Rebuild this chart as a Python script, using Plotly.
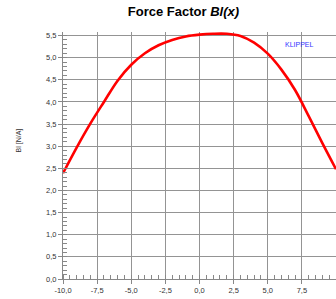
import plotly.graph_objects as go

x_mm = [-10, -9, -8, -7, -6, -5, -4, -3, -2, -1, 0, 1, 2, 3, 4, 5, 6, 7, 8, 9, 10]
bl = [2.39, 2.97, 3.51, 4.00, 4.48, 4.84, 5.10, 5.28, 5.40, 5.48, 5.52, 5.54, 5.54, 5.49, 5.34, 5.09, 4.73, 4.27, 3.68, 3.07, 2.48]

x_ticks = [-10, -7.5, -5, -2.5, 0, 2.5, 5, 7.5, 10]
x_ticktext = ["-10,0", "-7,5", "-5,0", "-2,5", "0,0", "2,5", "5,0", "7,5", "10,0"]
y_ticks = [0, 0.5, 1, 1.5, 2, 2.5, 3, 3.5, 4, 4.5, 5, 5.5]
y_ticktext = ["0,0", "0,5", "1,0", "1,5", "2,0", "2,5", "3,0", "3,5", "4,0", "4,5", "5,0", "5,5"]

font = "Liberation Sans, Arial, sans-serif"

fig = go.Figure()
fig.add_trace(go.Scatter(x=x_mm, y=bl, mode="lines",
                         line=dict(color="#ff0000", width=2.6, shape="spline", smoothing=1.0),
                         showlegend=False, hoverinfo="skip"))

fig.update_layout(
    width=336, height=299,
    margin=dict(l=63, r=0, t=32, b=20),
    paper_bgcolor="white", plot_bgcolor="white",
    title=dict(text="<b>Force Factor <i>Bl(x)</i></b>", x=0.546, xanchor="center",
               y=0.962, yanchor="middle", font=dict(family=font, size=13, color="black")),
    xaxis=dict(range=[-10, 10], tickvals=x_ticks, ticktext=x_ticktext,
               showgrid=True, gridcolor="#949494", gridwidth=1,
               showline=True, linecolor="#888888", linewidth=1,
               ticks="outside", ticklen=4, tickcolor="#888888",
               tickfont=dict(family=font, size=7.5, color="#333333"),
               minor=dict(dtick=0.5, tick0=0, ticks="inside", ticklen=4, tickcolor="#888888", showgrid=False),
               zeroline=False, fixedrange=True),
    yaxis=dict(range=[0, 5.58], tickvals=y_ticks, ticktext=y_ticktext,
               showgrid=True, gridcolor="#949494", gridwidth=1,
               showline=True, linecolor="#888888", linewidth=1,
               ticks="outside", ticklen=4, tickcolor="#888888",
               tickfont=dict(family=font, size=7.5, color="#333333"),
               minor=dict(dtick=0.1, tick0=0, ticks="inside", ticklen=4, tickcolor="#888888", showgrid=False),
               zeroline=False, fixedrange=True),
)

fig.add_annotation(text="Bl [N/A]", xref="paper", yref="paper", x=-0.162, y=0.56,
                   xanchor="center", yanchor="middle",
                   textangle=-90, showarrow=False, font=dict(family=font, size=7, color="#333333"))
fig.add_annotation(text="KLIPPEL", xref="paper", yref="paper", x=0.868, y=0.951,
                   xanchor="center", yanchor="middle",
                   showarrow=False, font=dict(family=font, size=7, color="#3333ff"))
fig.add_annotation(text="<< coil in", xref="paper", yref="paper", x=0.154, y=-0.083,
                   xanchor="center", yanchor="top", showarrow=False,
                   font=dict(family=font, size=7, color="#333333"))
fig.add_annotation(text="x [mm]", xref="paper", yref="paper", x=0.498, y=-0.083,
                   xanchor="center", yanchor="top", showarrow=False,
                   font=dict(family=font, size=7, color="#333333"))
fig.add_annotation(text="coil out >>", xref="paper", yref="paper", x=0.835, y=-0.083,
                   xanchor="center", yanchor="top", showarrow=False,
                   font=dict(family=font, size=7, color="#333333"))

fig.write_html("out.html", config={"displayModeBar": False, "staticPlot": True},
               post_script="document.body.style.margin='0';document.body.style.overflow='hidden';")
